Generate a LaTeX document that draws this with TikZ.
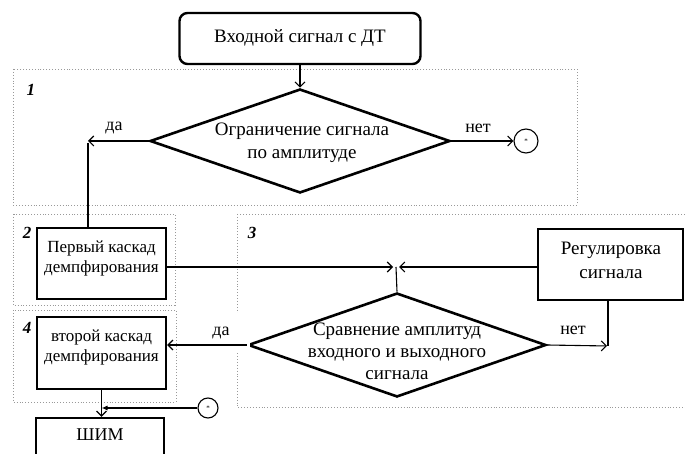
\documentclass[tikz,border=0pt]{standalone}
\usepackage{fontspec}
\setmainfont{Liberation Serif}
\usetikzlibrary{arrows.meta,shapes.geometric,calc}
\begin{document}
\begin{tikzpicture}[x=1pt,y=-1pt,
  txt/.style={font=\fontsize{19}{22}\selectfont, align=center, inner sep=0pt},
  btxt/.style={font=\fontsize{17}{20}\selectfont, align=center, inner sep=0pt},
  blk/.style={draw, line width=2.4pt, inner sep=0pt},
  dia/.style={draw, diamond, line width=2.6pt, inner sep=0pt, minimum width=300pt, minimum height=104pt},
  grp/.style={draw=gray!80, dotted, line width=0.9pt},
  con/.style={line width=1.1pt},
  arr/.style={con, -{Straight Barb[length=5pt,width=10pt,line width=1.1pt]}},
  lbl/.style={font=\fontsize{18}{20}\selectfont, inner sep=1pt},
  num/.style={font=\fontsize{17}{20}\selectfont\bfseries\itshape, inner sep=0pt},
  circ/.style={draw, circle, line width=1.1pt, inner sep=0pt, font=\scriptsize},
]
\useasboundingbox (0,0) rectangle (685,454);
\clip (0,0) rectangle (685,454);

% groups
\draw[grp] (13,69) rectangle (577,205);
\draw[grp] (13,214) rectangle (175,305);
\draw[grp] (237,214) rectangle (700,407);
\draw[grp] (13,310) rectangle (176,402);
\node[num] (n1) at (31,90) {1};
\node[num] (n2) at (27,233) {2};
\node[num] (n3) at (252,233) {3};
\node[num] (n4) at (27,328) {4};

% blocks
\node[blk, rounded corners=8pt, minimum width=241pt, minimum height=51pt, txt] (start) at (300,38.5) {Входной сигнал с ДТ};
\node[dia] (d1) at (300,141) {};
\node[txt, font=\fontsize{19}{23}\selectfont] (d1t) at (302,143) {Ограничение сигнала\\по амплитуде};
\node[circ, minimum size=24pt] (c1) at (526,141) {*};

\node[blk, minimum width=129pt, minimum height=71pt] (b2) at (101.5,263.5) {};
\node[btxt] (b2t) at (101.5,258) {Первый каскад\\демпфирования};

\node[blk, minimum width=145pt, minimum height=71pt] (reg) at (610.5,264.5) {};
\node[txt, font=\fontsize{19}{24}\selectfont] (regt) at (611,260) {Регулировка\\сигнала};

\node[dia, minimum width=298pt] (d2) at (397,345) {};
\node[txt] (d2t) at (397,351) {Сравнение амплитуд\\входного и выходного\\сигнала};

\node[blk, minimum width=129pt, minimum height=72pt] (b4) at (101.5,353) {};
\node[btxt] (b4t) at (101.5,347) {второй каскад\\демпфирования};

\node[blk, minimum width=128pt, minimum height=54pt] (shim) at (100,445) {};
\node[txt, font=\fontsize{18}{20}\selectfont] (shimt) at (100,435) {ШИМ};
\node[circ, minimum size=20pt] (c2) at (208,408) {*};

% labels
\node[lbl] (yes1) at (114,128) {да};
\node[lbl] (no1) at (478,128) {нет};
\node[lbl, fill=white, minimum width=57pt, minimum height=40pt] (yes2) at (221,333) {да};
\node[lbl] (no2) at (573,330) {нет};

% connectors
\coordinate (j1) at (88,141);
\coordinate (j2) at (396,267);
\coordinate (j3) at (608,346);
\draw[arr] (start.south) -- (d1.north);
\draw[arr] (d1.west) -- (j1);
\draw[con] ($(j1)+(0,2)$) -- (j1 |- b2.north);
\draw[arr] (d1.east) -- (c1.west);
\draw[arr, shorten >=3pt] (b2.east |- j2) -- (j2);
\draw[arr, shorten >=3pt] (reg.west |- j2) -- (j2);
\draw[con] (d2.north) -- (j2);
\draw[arr] (d2.west) -- (b4.east |- d2.west);
\draw[con] (reg.south -| j3) -- (j3);
\draw[arr, shorten >=1pt] (d2.east) -- (j3);
\draw[arr] (b4.south) -- (b4.south |- shim.north);
\draw[con, -{Latex[length=6pt,width=5pt]}] (c2.west) -- (c2.west -| b4.south);
\end{tikzpicture}
\end{document}
